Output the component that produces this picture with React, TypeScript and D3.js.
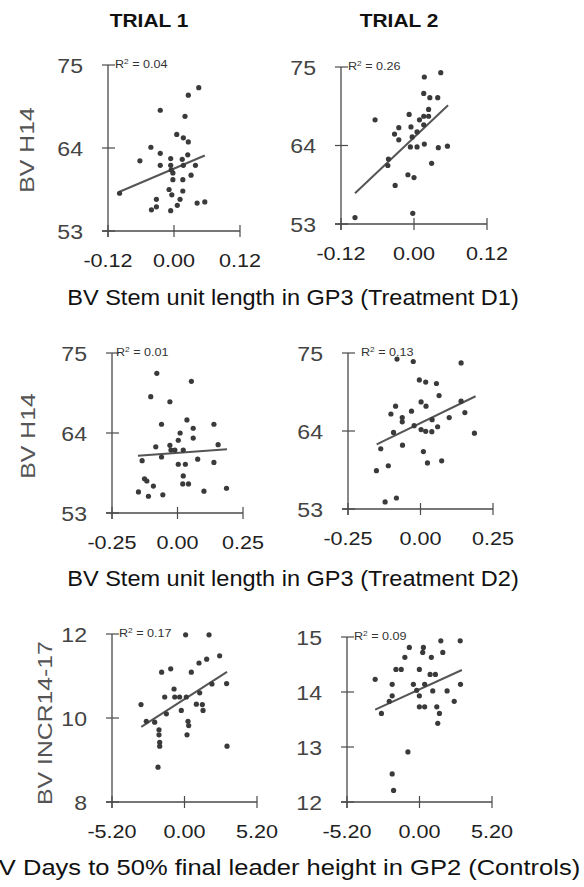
import React from "react";
import * as d3 from "d3";

// ---------- data ----------
const trialTitles = ["TRIAL 1", "TRIAL 2"];
const captions = [
  "BV Stem unit length in GP3 (Treatment D1)",
  "BV Stem unit length in GP3 (Treatment D2)",
  "BV Days to 50% final leader height in GP2 (Controls)",
];
const yTitles = ["BV H14", "BV H14", "BV INCR14-17"];
const r2Labels = ["0.04", "0.26", "0.01", "0.13", "0.17", "0.09"];

const xTicksD1 = [-0.12, 0, 0.12];
const xTickLabelsD1 = ["-0.12", "0.00", "0.12"];
const xTicksD2 = [-0.25, 0, 0.25];
const xTickLabelsD2 = ["-0.25", "0.00", "0.25"];
const xTicksC = [-5.2, 0, 5.2];
const xTickLabelsC = ["-5.20", "0.00", "5.20"];
const yTicksH14 = [53, 64, 75];
const yTicksIncr1 = [8, 10, 12];
const yTicksIncr2 = [12, 13, 14, 15];

const t1d1X = [0.045, 0.026, -0.025, 0.02, 0.005, 0.017, 0.026, -0.042, -0.025, 0.025, -0.062, -0.006, 0.015, -0.025, -0.006, 0.017, 0.039, -0.005, -0.002, 0.031, -0.002, 0.016, -0.009, 0.016, -0.004, -0.099, -0.032, 0.011, -0.032, -0.041, 0.006, -0.006, 0.042, 0.056];
const t1d1Y = [72.0, 71.0, 69.0, 68.2, 65.8, 65.35, 64.8, 64.1, 63.3, 63.1, 62.3, 62.6, 62.5, 61.7, 61.7, 61.7, 61.7, 61.1, 60.7, 60.4, 59.8, 59.8, 58.5, 58.3, 57.8, 58.0, 57.2, 57.2, 56.2, 55.8, 56.4, 55.7, 56.7, 56.85];
const t1d1Fit = [[-0.099, 58.2], [0.056, 63.0]];

const t2d1X = [0.044, 0.017, 0.016, 0.026, 0.039, 0.024, -0.008, -0.064, 0.009, 0.016, 0.024, -0.025, -0.005, 0.016, 0.005, -0.032, -0.003, -0.025, -0.006, 0.005, 0.017, 0.04, 0.055, -0.042, -0.043, 0.029, -0.01, 0.0, -0.031, -0.002, -0.097];
const t2d1Y = [74.2, 73.6, 71.3, 70.7, 70.7, 69.05, 68.35, 67.6, 67.6, 68.1, 68.1, 66.5, 66.6, 66.9, 65.9, 65.6, 65.2, 64.8, 63.8, 63.8, 64.2, 63.7, 63.9, 62.1, 61.2, 61.5, 59.9, 59.5, 58.4, 54.5, 53.9];
const t2d1Fit = [[-0.097, 57.3], [0.056, 69.65]];

const t1d2X = [-0.079, 0.053, -0.102, -0.029, -0.061, 0.036, 0.06, 0.139, 0.01, 0.003, 0.06, -0.083, -0.029, 0.155, -0.025, -0.01, 0.022, -0.061, -0.135, 0.077, 0.139, 0.003, 0.03, 0.022, -0.126, -0.117, -0.092, 0.02, 0.042, 0.187, 0.101, -0.149, -0.056, -0.111];
const t1d2Y = [72.2, 71.1, 69.0, 68.3, 65.2, 65.8, 64.65, 65.2, 64.0, 63.0, 63.3, 62.1, 62.3, 62.4, 61.65, 61.65, 61.65, 60.7, 60.2, 60.4, 59.95, 59.7, 59.7, 58.1, 57.7, 57.4, 56.7, 57.0, 57.0, 56.4, 56.0, 55.9, 55.5, 55.3];
const t1d2Fit = [[-0.151, 60.87], [0.189, 61.75]];

const t2d2X = [-0.081, -0.025, 0.14, -0.004, 0.018, 0.055, 0.064, 0.002, 0.019, 0.14, -0.086, -0.102, -0.031, 0.153, -0.063, -0.063, 0.099, 0.04, -0.022, 0.059, -0.093, 0.002, 0.018, 0.039, 0.186, -0.137, -0.062, 0.01, -0.111, 0.024, 0.073, -0.152, -0.122, -0.083];
const t2d2Y = [74.15, 73.8, 73.6, 71.2, 70.9, 70.7, 69.0, 68.1, 67.5, 68.2, 67.5, 66.4, 66.8, 66.6, 65.9, 65.3, 65.9, 65.6, 64.75, 64.6, 63.8, 64.2, 63.95, 63.9, 63.7, 61.5, 62.0, 61.1, 59.1, 59.5, 59.8, 58.4, 54.0, 54.55];
const t2d2Fit = [[-0.151, 62.1], [0.19, 68.9]];

const t1cX = [0.08, 1.76, 2.52, 1.59, 1.04, -0.99, -1.64, 0.49, 3.02, 1.97, 1.09, -0.75, -1.42, -0.7, -0.35, 0.13, -3.12, 0.85, 1.28, -0.23, 1.33, -1.3, -2.74, -2.14, 0.25, 0.3, -1.83, -1.83, 0.18, -1.78, -1.78, 3.05, -1.9];
const t1cY = [11.98, 11.98, 11.48, 11.4, 11.31, 11.17, 11.09, 11.09, 10.82, 10.81, 10.6, 10.69, 10.5, 10.5, 10.5, 10.5, 10.32, 10.33, 10.32, 10.18, 10.18, 10.1, 9.92, 9.9, 9.92, 9.82, 9.72, 9.6, 9.6, 9.42, 9.33, 9.33, 8.83];
const t1cFit = [[-3.1, 9.79], [3.05, 11.1]];

const t2cX = [1.53, 2.92, -0.73, 0.28, 0.23, 1.67, -1.05, 0.85, -1.69, -1.31, -0.01, 0.76, 1.14, -3.18, -1.96, -0.44, 0.37, 2.94, -0.2, 0.95, 1.98, -1.96, -0.01, -2.17, 2.49, -0.01, 0.37, 1.24, -2.73, 1.43, 1.31, -0.83, -1.96, -1.86];
const t2cY = [14.93, 14.93, 14.81, 14.81, 14.72, 14.72, 14.63, 14.63, 14.41, 14.41, 14.41, 14.32, 14.32, 14.23, 14.14, 14.14, 14.14, 14.14, 14.03, 14.02, 14.02, 13.93, 13.93, 13.83, 13.83, 13.73, 13.73, 13.73, 13.61, 13.61, 13.43, 12.91, 12.51, 12.21];
const t2cFit = [[-3.18, 13.68], [3.04, 14.4]];

// ---------- layout ----------
const FONT = "'Liberation Sans', Arial, Helvetica, sans-serif";
const INK = "#3c3c3c";

type Panel = {
  xs: number[]; ys: number[]; fit: number[][];
  xTicks: number[]; xLabels: string[]; yTicks: number[];
  r2: string; yTitle?: string; yTitlePos?: [number, number];
  frame: { x0: number; x1: number; yTop: number; yBot: number; r2dx: number };
};

const panels: Panel[] = [
  { xs: t1d1X, ys: t1d1Y, fit: t1d1Fit, xTicks: xTicksD1, xLabels: xTickLabelsD1, yTicks: yTicksH14, r2: r2Labels[0], yTitle: yTitles[0], yTitlePos: [26, 150], frame: { x0: 108, x1: 240, yTop: 65, yBot: 231, r2dx: 7 } },
  { xs: t2d1X, ys: t2d1Y, fit: t2d1Fit, xTicks: xTicksD1, xLabels: xTickLabelsD1, yTicks: yTicksH14, r2: r2Labels[1], frame: { x0: 341, x1: 487, yTop: 67, yBot: 224, r2dx: 7 } },
  { xs: t1d2X, ys: t1d2Y, fit: t1d2Fit, xTicks: xTicksD2, xLabels: xTickLabelsD2, yTicks: yTicksH14, r2: r2Labels[2], yTitle: yTitles[1], yTitlePos: [27, 436], frame: { x0: 112, x1: 243, yTop: 353, yBot: 513, r2dx: 4 } },
  { xs: t2d2X, ys: t2d2Y, fit: t2d2Fit, xTicks: xTicksD2, xLabels: xTickLabelsD2, yTicks: yTicksH14, r2: r2Labels[3], frame: { x0: 348, x1: 493, yTop: 353, yBot: 509, r2dx: 13 } },
  { xs: t1cX, ys: t1cY, fit: t1cFit, xTicks: xTicksC, xLabels: xTickLabelsC, yTicks: yTicksIncr1, r2: r2Labels[4], yTitle: yTitles[2], yTitlePos: [44, 723], frame: { x0: 112, x1: 257, yTop: 634, yBot: 802, r2dx: 7 } },
  { xs: t2cX, ys: t2cY, fit: t2cFit, xTicks: xTicksC, xLabels: xTickLabelsC, yTicks: yTicksIncr2, r2: r2Labels[5], frame: { x0: 347, x1: 492, yTop: 637, yBot: 802, r2dx: 7 } },
];

function Txt(props: { x: number; y: number; rot?: number; sx?: number; size: number; weight?: string | number; fill?: string; anchor?: string; dy?: string; children: React.ReactNode }) {
  const { x, y, rot = 0, sx = 1, size, weight = "normal", fill = INK, anchor = "middle", dy = "0", children } = props;
  return (
    <g transform={`translate(${x},${y}) rotate(${rot}) scale(${sx},1)`}>
      <text textAnchor={anchor as any} fontSize={size} fontWeight={weight} fill={fill} dy={dy} fontFamily={FONT}>
        {children}
      </text>
    </g>
  );
}

function ScatterPanel({ p }: { p: Panel }) {
  const f = p.frame;
  const xDom = d3.extent(p.xTicks) as [number, number];
  const yDom = d3.extent(p.yTicks) as [number, number];
  const x = d3.scaleLinear().domain(xDom).range([f.x0, f.x1]);
  const y = d3.scaleLinear().domain(yDom).range([f.yBot, f.yTop]);
  const line = d3.line<number[]>().x((d) => x(d[0])).y((d) => y(d[1]));
  const axisColor = "#4a4a4a";
  return (
    <g>
      {/* axes */}
      <line x1={x(xDom[0]) - 6} x2={x(xDom[1])} y1={y(yDom[0])} y2={y(yDom[0])} stroke={axisColor} strokeWidth={1.3} />
      <line x1={x(xDom[0])} x2={x(xDom[0])} y1={y(yDom[1])} y2={y(yDom[0]) + 6} stroke={axisColor} strokeWidth={1.3} />
      {p.yTicks.map((t) => (
        <g key={"y" + t}>
          <line x1={x(xDom[0]) - 6} x2={x(xDom[0]) + 7} y1={y(t)} y2={y(t)} stroke={axisColor} strokeWidth={1.2} />
          <Txt x={x(xDom[0]) - 25} y={y(t)} size={21} sx={1.1} anchor="end" dy="0.36em" fill="#444">{d3.format("d")(t)}</Txt>
        </g>
      ))}
      {p.xTicks.map((t, i) => (
        <g key={"x" + t}>
          <line x1={x(t)} x2={x(t)} y1={y(yDom[0]) - 6} y2={y(yDom[0]) + 6} stroke={axisColor} strokeWidth={1.2} />
          <Txt x={x(t)} y={y(yDom[0]) + 30} size={18} sx={1.2} dy="0.36em" fill="#222">{p.xLabels[i]}</Txt>
        </g>
      ))}
      <Txt x={x(xDom[0]) + f.r2dx} y={y(yDom[1]) + 3} size={10.5} sx={1.2} anchor="start" fill="#333">
        R<tspan fontSize={7} dy="-4">2</tspan><tspan dy="4"> = {p.r2}</tspan>
      </Txt>
      {/* fit line */}
      <path d={line(p.fit) || ""} fill="none" stroke="#555" strokeWidth={2} />
      {/* points */}
      {p.xs.map((v, i) => (
        <circle key={i} cx={x(v)} cy={y(p.ys[i])} r={2.6} fill="#3a3a3a" />
      ))}
      {p.yTitle && p.yTitlePos && (
        <Txt x={p.yTitlePos[0]} y={p.yTitlePos[1]} rot={-90} sx={1.18} size={21} dy="0.36em" fill="#555">{p.yTitle}</Txt>
      )}
    </g>
  );
}

export default function App() {
  return (
    <svg width={584} height={887} style={{ position: "absolute", left: 0, top: 0, background: "#fff" }}>
      <rect x={0} y={0} width={584} height={887} fill="#fff" />
      <Txt x={149} y={20} size={19} sx={1.1} weight="bold" dy="0.36em" fill="#111">{trialTitles[0]}</Txt>
      <Txt x={399} y={20} size={19} sx={1.1} weight="bold" dy="0.36em" fill="#111">{trialTitles[1]}</Txt>
      {panels.map((p, i) => (
        <ScatterPanel key={i} p={p} />
      ))}
      <Txt x={293} y={305} size={22} sx={1.07} fill="#111">{captions[0]}</Txt>
      <Txt x={293} y={586} size={22} sx={1.07} fill="#111">{captions[1]}</Txt>
      <Txt x={281} y={875} size={22} sx={1.16} fill="#111">{captions[2]}</Txt>
    </svg>
  );
}
